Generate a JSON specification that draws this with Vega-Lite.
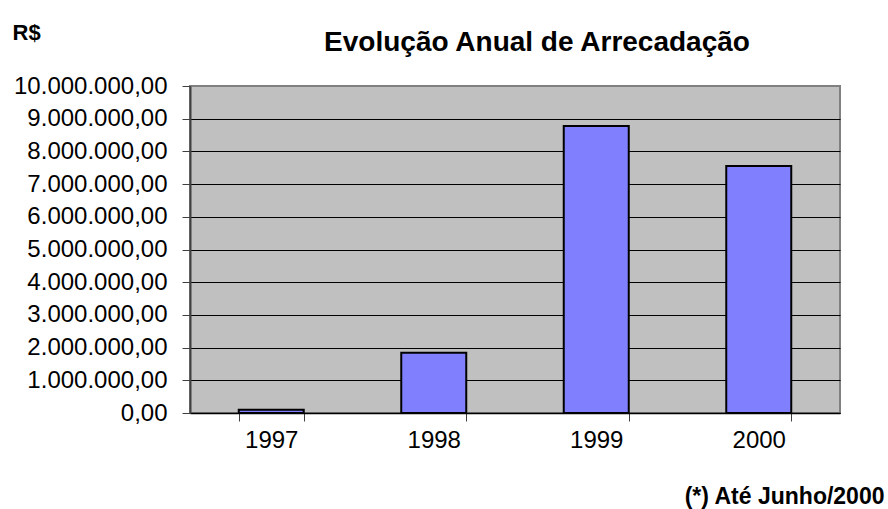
{
  "$schema": "https://vega.github.io/schema/vega-lite/v6.json",
  "autosize": "none",
  "width": 650,
  "height": 327,
  "padding": {"left": 190, "top": 86, "right": 48, "bottom": 96},
  "background": "white",
  "data": {"values": [
    {"ano": "1997", "valor": 100000},
    {"ano": "1998", "valor": 1840000},
    {"ano": "1999", "valor": 8780000},
    {"ano": "2000", "valor": 7550000}
  ]},
  "title": {
    "text": "Evolução Anual de Arrecadação",
    "anchor": "middle",
    "dx": 22,
    "offset": -36,
    "fontSize": 28,
    "font": "Liberation Sans",
    "fontWeight": "bold",
    "color": "black"
  },
  "mark": {"type": "bar", "color": "#8080ff", "stroke": "black", "strokeWidth": 2},
  "encoding": {
    "x": {
      "field": "ano",
      "type": "ordinal",
      "scale": {"paddingInner": 0.6, "paddingOuter": 0.3},
      "axis": {
        "title": "(*) Até Junho/2000",
        "titleFont": "Liberation Sans",
        "titleFontSize": 23,
        "titleFontWeight": "bold",
        "titleColor": "black",
        "titleAlign": "right",
        "titleAnchor": null,
        "titleX": 694,
        "titleY": 83,
        "titleBaseline": "middle",
        "labelAngle": 0,
        "labelFont": "Liberation Sans",
        "labelFontSize": 24,
        "labelColor": "black",
        "labelPadding": 7,
        "tickBand": "extent",
        "tickSize": 8,
        "tickColor": "#404040",
        "domainColor": "black",
        "domainWidth": 1.5
      }
    },
    "y": {
      "field": "valor",
      "type": "quantitative",
      "scale": {"domain": [0, 10000000], "nice": false},
      "axis": {
        "title": "R$",
        "titleFont": "Liberation Sans",
        "titleFontSize": 22,
        "titleFontWeight": "bold",
        "titleColor": "black",
        "titleAngle": 0,
        "titleAlign": "left",
        "titleBaseline": "middle",
        "titleX": -178,
        "titleY": -54,
        "values": [0, 1000000, 2000000, 3000000, 4000000, 5000000, 6000000, 7000000, 8000000, 9000000, 10000000],
        "format": ",.2f",
        "labelFont": "Liberation Sans",
        "labelFontSize": 24,
        "labelColor": "black",
        "labelPadding": 15,
        "tickSize": 8,
        "tickColor": "#404040",
        "domainColor": "#404040",
        "domainWidth": 2,
        "grid": true,
        "gridColor": {"condition": {"test": "datum.value == 10000000", "value": "#808080"}, "value": "black"},
        "gridWidth": 1.2
      }
    }
  },
  "config": {
    "locale": {"number": {"decimal": ",", "thousands": ".", "grouping": [3], "currency": ["R$", ""]}},
    "view": {"fill": "#c0c0c0", "stroke": "#808080", "strokeWidth": 2},
    "axis": {"labelFlush": false, "labelOverlap": false}
  }
}
